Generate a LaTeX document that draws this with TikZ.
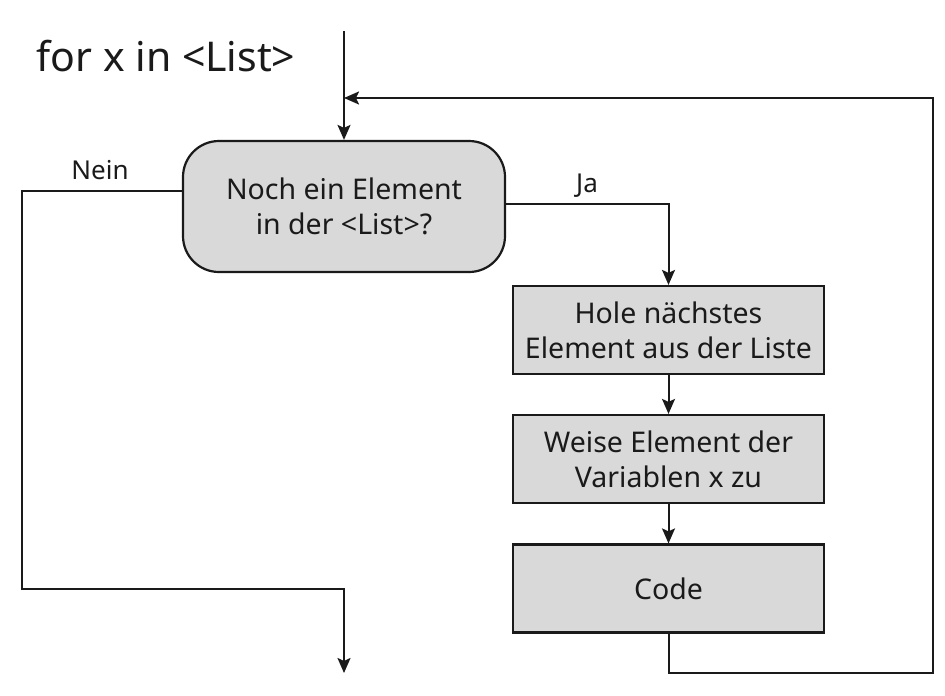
\documentclass[tikz,border=0pt]{standalone}
\usepackage{fontspec}
\setmainfont{Noto Sans}
\usetikzlibrary{arrows.meta}
\definecolor{boxgray}{HTML}{D9D9D9}
\definecolor{ink}{HTML}{1A1A1A}
\begin{document}
\begin{tikzpicture}[x=1pt,y=-1pt,
  every node/.style={text=ink,font=\fontsize{28.5}{35}\selectfont},
  box/.style={draw=ink,fill=boxgray,line width=2.2pt,minimum width=311pt,minimum height=88pt,inner sep=0pt,align=center},
  decision/.style={draw=ink,fill=boxgray,line width=2.2pt,rounded corners=36pt,minimum width=322pt,minimum height=131pt,inner sep=0pt,align=center},
  lbl/.style={font=\fontsize{26}{30}\selectfont},
  conn/.style={draw=ink,line width=2pt},
  arr/.style={conn,-{Stealth[length=15pt,width=13pt,inset=3pt]}}]
\useasboundingbox (0,0) rectangle (945,696);
\node[font=\fontsize{41}{48}\selectfont] (title) at (166,56) {for x in <List>};
\node[decision] (dec) at (344,206.5) {Noch ein Element\\in der <List>?};
\node[box] (b1) at (668.5,330) {Hole nächstes\\Element aus der Liste};
\node[box] (b2) at (668.5,459) {Weise Element der\\Variablen x zu};
\node[box] (b3) at (668.5,588.5) {Code};
\node[lbl] (nein) at (100,170) {Nein};
\node[lbl] (ja) at (587,186) {Ja};
\coordinate (start) at (344,31);
\coordinate (ret) at (344,98);
\coordinate (exit) at (344,673);
\draw[arr] (start) -- (dec.north);
\draw[arr] (b3.south) |- (933,673) |- (ret);
\draw[arr] ([yshift=15.5pt]dec.west) -| (22,589) -| (exit);
\draw[arr] ([yshift=3pt]dec.east) -| (b1.north);
\draw[arr] (b1) -- (b2);
\draw[arr] (b2) -- (b3);
\end{tikzpicture}
\end{document}
